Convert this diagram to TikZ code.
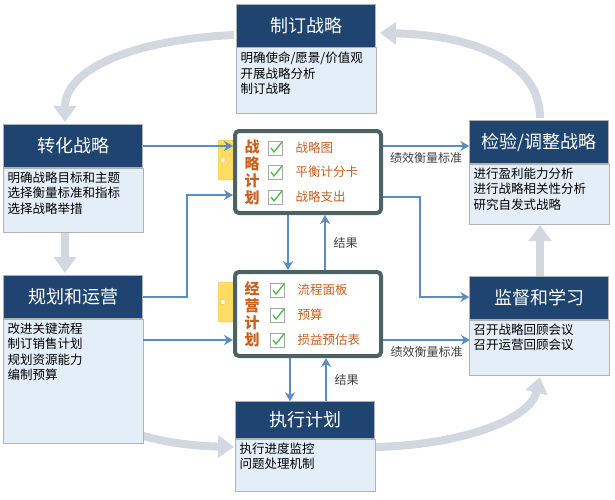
\documentclass[tikz,border=0pt]{standalone}
\usepackage{fontspec}
\setmainfont{Noto Sans CJK SC}
\usetikzlibrary{positioning,arrows.meta}
\definecolor{navy}{HTML}{1F4470}
\definecolor{pale}{HTML}{E3EEF8}
\definecolor{boardc}{HTML}{4D6262}
\definecolor{orng}{HTML}{C8601E}
\definecolor{flow}{HTML}{5B8CC8}
\definecolor{loopc}{HTML}{D3D8E0}
\tikzset{
  head/.style={draw=gray!60, fill=navy, text=white, minimum width=139pt, minimum height=43pt, font=\fontsize{18}{18}\selectfont, inner sep=0pt},
  body/.style={draw=gray!60, fill=pale},
  btext/.style={text width=133pt, align=left, font=\fontsize{12.5}{15.5}\selectfont, inner sep=4pt, anchor=north west},
  board/.style={draw=boardc, line width=4pt, rounded corners=4pt, fill=white, minimum width=146pt},
  tab/.style={draw=orange!60, fill=yellow!60!orange!60, minimum width=16pt, minimum height=40pt, rounded corners=2pt},
  title/.style={text=orng, font=\bfseries\fontsize{15}{17}\selectfont, align=center},
  item/.style={text=orng, font=\fontsize{12.5}{13}\selectfont, anchor=west},
  chk/.style={draw=gray!70, fill=white, minimum size=14pt, inner sep=0pt},
  blue/.style={draw=flow, line width=2.6pt, -{Stealth[length=9pt,width=10pt]}},
  big/.style={draw=loopc, line width=8pt, -{Triangle[length=16pt,width=22pt]}},
  lab/.style={font=\fontsize{12}{13}\selectfont, text=black!75}
}
\newcommand{\tick}[1]{\draw[green!45!gray, line width=1.3pt] ([shift={(-4pt,0pt)}]#1.center) -- ([shift={(-1pt,-4pt)}]#1.center) -- ([shift={(7pt,6pt)}]#1.center);}
\newcommand{\stagebody}[3]{\draw[body] (#1.south west) rectangle ([yshift=#2]#1.south east);
  \node[btext] at (#1.south west) {#3};}
\begin{document}
\begin{tikzpicture}[x=1pt,y=-1pt]
\useasboundingbox (0,0) rectangle (615,500);

% big loop arrows (behind)
\coordinate (c1) at (234,35);
\coordinate (c2) at (65,122);
\draw[big] (c1) .. controls (130,40) and (65,70) .. (c2);
\coordinate (c3) at (540,118);
\coordinate (c4) at (380,33);
\draw[big] (c3) .. controls (540,60) and (470,35) .. (c4);
\coordinate (c5) at (65,380);
\coordinate (c6) at (234,447);
\draw[big] (c5) .. controls (90,430) and (160,445) .. (c6);
\coordinate (c7) at (376,447);
\coordinate (c8) at (540,377);
\draw[big] (c7) .. controls (460,445) and (530,420) .. (c8);
\coordinate (c9) at (65,233);
\coordinate (c10) at (65,273);
\draw[big] (c9) -- (c10);
\coordinate (c11) at (540,276);
\coordinate (c12) at (540,225);
\draw[big] (c11) -- (c12);

% stage boxes
\node[head] (zd) at (306,26) {制订战略};
\stagebody{zd}{-66pt}{明确使命/愿景/价值观\\开展战略分析\\制订战略}
\node[head] (zh) at (73,146) {转化战略};
\stagebody{zh}{-64pt}{明确战略目标和主题\\选择衡量标准和指标\\选择战略举措}
\node[head] (gh) at (73,297) {规划和运营};
\stagebody{gh}{-124pt}{改进关键流程\\制订销售计划\\规划资源能力\\编制预算}
\node[head] (jy) at (539,142) {检验/调整战略};
\stagebody{jy}{-60pt}{进行盈利能力分析\\进行战略相关性分析\\研究自发式战略}
\node[head] (jd) at (539,298) {监督和学习};
\stagebody{jd}{-55pt}{召开战略回顾会议\\召开运营回顾会议}
\node[head, minimum height=37pt] (zx) at (305,420) {执行计划};
\stagebody{zx}{-52pt}{执行进度监控\\问题处理机制}

% clipboards
\node[tab] (zlt) at (226,160) {};
\node[board, minimum height=82pt] (zl) at (308,172) {};
\node[tab] (jpt) at (226,302) {};
\node[board, minimum height=84pt] (jp) at (308,314) {};
\draw[orange!60, fill=white] (223,160) circle (2.5pt) (223,302) circle (2.5pt);
\node[title] (zlh) at (252,172) {战\\略\\计\\划};
\node[title] (jph) at (252,314) {经\\营\\计\\划};
\foreach \n/\y/\t in {a/148/战略图, b/172/平衡计分卡, c/197/战略支出}{
  \node[chk] (zk\n) at (275,\y) {};
  \tick{zk\n}
  \node[item] at (292,\y) {\t};
}
\foreach \n/\y/\t in {a/290/流程面板, b/315/预算, c/340/损益预估表}{
  \node[chk] (jk\n) at (277,\y) {};
  \tick{jk\n}
  \node[item] at (294,\y) {\t};
}

% blue flows
\draw[blue] (zh.east) -- (zl.west |- zh.east);
\draw[blue] (gh.east) -| (187,195) -- (zl.west |- 0,195);
\draw[blue] (143,340) -- (jp.west |- 0,340);
\draw[blue] (zl.east |- 0,146) -- node[lab, below=2pt] {绩效衡量标准} (jy.west |- 0,146);
\draw[blue] (zl.east |- 0,197) -| (420,297) -- (jd.west |- 0,297);
\draw[blue] (jp.east |- 0,340) -- node[lab, below=2pt] {绩效衡量标准} (470,340);
\draw[blue] (zl.south -| 288,0) -- (jp.north -| 288,0);
\draw[blue] (jp.north -| 325,0) -- node[lab, right=4pt] {结果} (zl.south -| 325,0);
\draw[blue] (jp.south -| 290,0) -- (zx.north -| 290,0);
\draw[blue] (zx.north -| 326,0) -- node[lab, right=4pt] {结果} (jp.south -| 326,0);
\end{tikzpicture}
\end{document}
